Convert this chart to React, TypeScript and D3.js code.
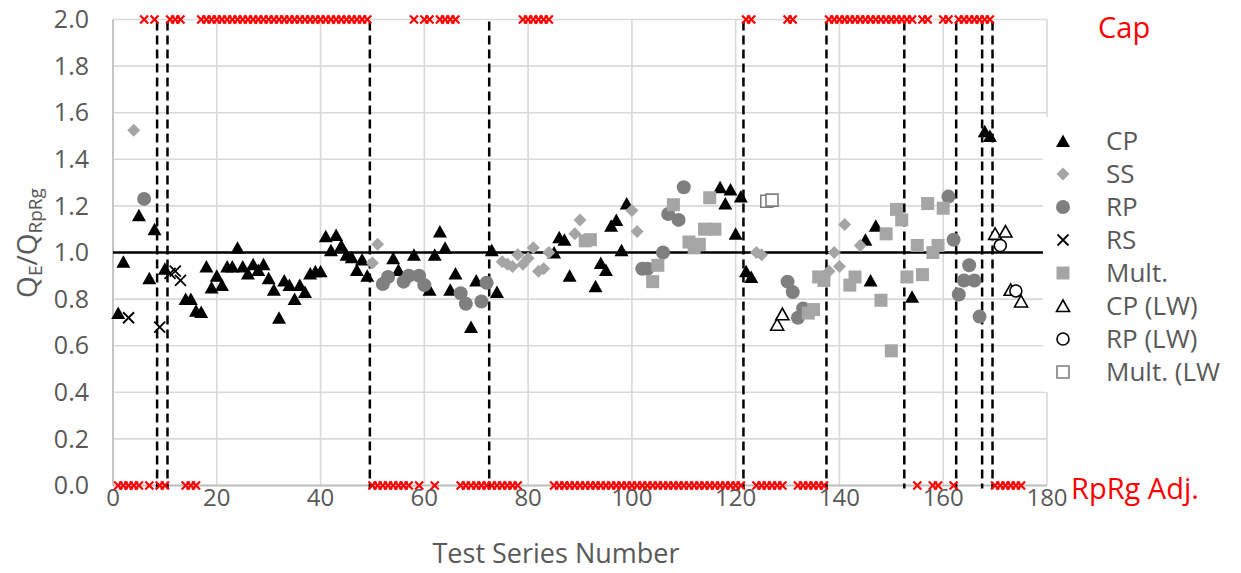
import { useEffect, useRef } from 'react'
import * as d3 from 'd3'

// test series number / QE/QRpRg ratio, per type
const cpX = [1, 2, 5, 7, 8, 10, 14, 15, 16, 17, 18, 19, 20, 21, 22, 23, 24, 25, 26, 27, 28, 29, 30, 31, 32, 33, 34, 35, 36, 37, 38, 39, 40, 41, 42, 43, 44, 45, 46, 47, 48, 49, 54, 55, 58, 61, 62, 63, 64, 65, 66, 69, 70, 73, 74, 85, 86, 87, 88, 93, 94, 95, 96, 97, 98, 99, 117, 118, 119, 120, 121, 122, 123, 145, 146, 147, 154, 168, 169]
const cpY = [0.74, 0.96, 1.16, 0.89, 1.1, 0.93, 0.8, 0.8, 0.75, 0.745, 0.94, 0.85, 0.9, 0.86, 0.94, 0.94, 1.02, 0.94, 0.91, 0.95, 0.925, 0.95, 0.89, 0.84, 0.72, 0.88, 0.86, 0.8, 0.86, 0.83, 0.91, 0.92, 0.92, 1.07, 1.01, 1.075, 1.03, 0.99, 0.98, 0.925, 0.97, 0.9, 0.975, 0.925, 0.99, 0.84, 0.99, 1.09, 1.02, 0.84, 0.91, 0.68, 0.88, 1.01, 0.83, 1.0, 1.065, 1.055, 0.9, 0.855, 0.955, 0.925, 1.115, 1.14, 1.01, 1.21, 1.28, 1.21, 1.27, 1.08, 1.24, 0.92, 0.895, 1.055, 0.88, 1.115, 0.81, 1.52, 1.5]

const ssX = [4, 50, 51, 75, 76, 77, 78, 79, 80, 81, 82, 83, 84, 89, 90, 100, 101, 124, 125, 138, 139, 140, 141, 144]
const ssY = [1.525, 0.955, 1.035, 0.96, 0.95, 0.94, 0.99, 0.95, 0.975, 1.02, 0.92, 0.93, 1.0, 1.08, 1.14, 1.18, 1.09, 1.0, 0.99, 0.92, 1.0, 0.94, 1.12, 1.03]

const rpX = [6, 52, 53, 56, 57, 59, 60, 67, 68, 71, 72, 102, 103, 106, 107, 109, 110, 130, 131, 132, 133, 161, 162, 163, 164, 165, 166, 167]
const rpY = [1.23, 0.865, 0.895, 0.875, 0.9, 0.9, 0.86, 0.825, 0.78, 0.79, 0.87, 0.93, 0.93, 1.0, 1.165, 1.14, 1.28, 0.875, 0.83, 0.72, 0.76, 1.24, 1.055, 0.82, 0.88, 0.945, 0.88, 0.725]

const rsX = [3, 9, 11, 12, 13]
const rsY = [0.72, 0.68, 0.91, 0.92, 0.88]

const multX = [91, 92, 104, 105, 108, 111, 112, 113, 114, 115, 116, 134, 135, 136, 137, 142, 143, 148, 149, 150, 151, 152, 153, 155, 156, 157, 158, 159, 160]
const multY = [1.05, 1.055, 0.875, 0.945, 1.205, 1.045, 1.02, 1.035, 1.1, 1.235, 1.1, 0.74, 0.755, 0.895, 0.88, 0.86, 0.895, 0.795, 1.08, 0.578, 1.185, 1.14, 0.895, 1.03, 0.905, 1.21, 1.0, 1.03, 1.19]

const cpLwX = [128, 129, 170, 172, 173, 175]
const cpLwY = [0.69, 0.735, 1.08, 1.09, 0.84, 0.79]
const rpLwX = [171, 174]
const rpLwY = [1.03, 0.835]
const multLwX = [126, 127]
const multLwY = [1.22, 1.225]

// series flagged at cap (2.0) or RpRg adjusted (0.0), as [first, last]
const capRanges = [[6, 6], [8, 8], [11, 13], [17, 49], [58, 58], [60, 61], [63, 66], [79, 84], [122, 123], [130, 131], [138, 154], [156, 157], [160, 161], [163, 169]]
const adjRanges = [[1, 5], [7, 7], [9, 10], [14, 16], [50, 57], [59, 59], [62, 62], [67, 78], [85, 121], [124, 129], [132, 137], [155, 155], [158, 159], [162, 162], [170, 175]]

// group boundaries
const dividers = [8.5, 10.5, 49.5, 72.5, 121.5, 137.5, 152.5, 162.5, 167.5, 169.5]

const xTicks = [0, 20, 40, 60, 80, 100, 120, 140, 160, 180]
const yTicks = [0, 0.2, 0.4, 0.6, 0.8, 1.0, 1.2, 1.4, 1.6, 1.8, 2.0]

const legendNames = ['CP', 'SS', 'RP', 'RS', 'Mult.', 'CP (LW)', 'RP (LW)', 'Mult. (LW)']

const FONT = "'Open Sans', sans-serif"
const GREY_TEXT = '#595959'

const tri = 'M0,-6.5L7,6L-7,6Z'
const dia = 'M0,-6.5L6.5,0L0,6.5L-6.5,0Z'
const sq = 'M-6.5,-6.5H6.5V6.5H-6.5Z'
const cross = (s) => `M${-s},${-s}L${s},${s}M${-s},${s}L${s},${-s}`

const zip = (xs, ys) => xs.map((x, i) => ({ x, y: ys[i] }))
const expand = (ranges) => ranges.flatMap(([a, b]) => d3.range(a, b + 1))

const styles = {
  'CP': { d: tri, fill: '#000', stroke: 'none' },
  'SS': { d: dia, fill: '#a5a5a5', stroke: 'none' },
  'RP': { circle: 7, fill: '#7f7f7f', stroke: 'none' },
  'RS': { d: cross(5.5), fill: 'none', stroke: '#000', sw: 1.8 },
  'Mult.': { d: sq, fill: '#a5a5a5', stroke: 'none' },
  'CP (LW)': { d: 'M0,-6L6.5,5.5L-6.5,5.5Z', fill: '#fff', stroke: '#000', sw: 1.6 },
  'RP (LW)': { circle: 6, fill: '#fff', stroke: '#000', sw: 1.6 },
  'Mult. (LW)': { d: 'M-6,-6H6V6H-6Z', fill: '#fff', stroke: '#7f7f7f', sw: 1.6 },
}

function drawMark(sel, st) {
  if (st.circle) {
    sel.append('circle').attr('r', st.circle)
      .attr('fill', st.fill).attr('stroke', st.stroke).attr('stroke-width', st.sw || 0)
  } else {
    sel.append('path').attr('d', st.d)
      .attr('fill', st.fill).attr('stroke', st.stroke).attr('stroke-width', st.sw || 0)
  }
}

export default function App() {
  const ref = useRef(null)

  useEffect(() => {
    const svg = d3.select(ref.current)
    svg.selectAll('*').remove()

    const x = d3.scaleLinear().domain([0, 180]).range([113, 1047])
    const y = d3.scaleLinear().domain([0, 2]).range([485.5, 19.5])

    // grid
    svg.append('g').selectAll('line').data(yTicks).join('line')
      .attr('x1', x(0)).attr('x2', x(180))
      .attr('y1', (d) => y(d)).attr('y2', (d) => y(d))
      .attr('stroke', '#d9d9d9').attr('stroke-width', 1.6)
    svg.append('g').selectAll('line').data(xTicks.slice(1)).join('line')
      .attr('x1', (d) => x(d)).attr('x2', (d) => x(d))
      .attr('y1', y(0)).attr('y2', y(2))
      .attr('stroke', '#d9d9d9').attr('stroke-width', 1.6)
    svg.append('line').attr('x1', x(0)).attr('x2', x(0)).attr('y1', y(0)).attr('y2', y(2))
      .attr('stroke', '#bfbfbf').attr('stroke-width', 1.8)
    svg.append('line').attr('x1', x(0)).attr('x2', x(180)).attr('y1', y(0)).attr('y2', y(0))
      .attr('stroke', '#bfbfbf').attr('stroke-width', 1.8)

    // tick labels
    svg.append('g').selectAll('text').data(yTicks).join('text')
      .attr('x', 89).attr('y', (d) => y(d)).attr('dy', '0.35em')
      .attr('text-anchor', 'end').attr('font-family', FONT).attr('font-size', 25)
      .attr('fill', GREY_TEXT).text((d) => d3.format('.1f')(d))
    svg.append('g').selectAll('text').data(xTicks).join('text')
      .attr('x', (d) => x(d)).attr('y', 498).attr('dy', '0.35em')
      .attr('text-anchor', 'middle').attr('font-family', FONT).attr('font-size', 24)
      .attr('fill', GREY_TEXT).text((d) => d)

    // dashed dividers + reference line
    svg.append('g').selectAll('line').data(dividers).join('line')
      .attr('x1', (d) => x(d)).attr('x2', (d) => x(d))
      .attr('y1', y(2) + 2).attr('y2', y(0) + 3)
      .attr('stroke', '#000').attr('stroke-width', 2.5).attr('stroke-dasharray', '9,5')
    svg.append('line').attr('x1', x(0)).attr('x2', x(180)).attr('y1', y(1)).attr('y2', y(1))
      .attr('stroke', '#000').attr('stroke-width', 2.4)

    // cap / adjusted flags
    const flags = [
      ...expand(capRanges).map((s) => ({ x: s, y: 2 })),
      ...expand(adjRanges).map((s) => ({ x: s, y: 0 })),
    ]
    svg.append('g').selectAll('path').data(flags).join('path')
      .attr('transform', (d) => `translate(${x(d.x)},${y(d.y)})`)
      .attr('d', cross(4)).attr('stroke', '#ff0000').attr('stroke-width', 2.2).attr('fill', 'none')

    // data series
    const series = [
      ['CP', zip(cpX, cpY)],
      ['SS', zip(ssX, ssY)],
      ['RP', zip(rpX, rpY)],
      ['RS', zip(rsX, rsY)],
      ['Mult.', zip(multX, multY)],
      ['CP (LW)', zip(cpLwX, cpLwY)],
      ['RP (LW)', zip(rpLwX, rpLwY)],
      ['Mult. (LW)', zip(multLwX, multLwY)],
    ]
    series.forEach(([name, pts]) => {
      const g = svg.append('g')
      pts.forEach((p) => {
        const m = g.append('g').attr('transform', `translate(${x(p.x)},${y(p.y)})`)
        drawMark(m, styles[name])
      })
    })

    // legend (text clipped by its box, as in the source)
    svg.append('clipPath').attr('id', 'legclip')
      .append('rect').attr('x', 1043).attr('y', 117).attr('width', 177).attr('height', 275)
    svg.append('rect').attr('x', 1043).attr('y', 117).attr('width', 200).attr('height', 275).attr('fill', '#fff')
    const leg = svg.append('g').attr('clip-path', 'url(#legclip)')
    legendNames.forEach((name, i) => {
      const ly = 141 + i * 33
      const m = leg.append('g').attr('transform', `translate(1063,${ly})`)
      drawMark(m, styles[name])
      leg.append('text').attr('x', 1106).attr('y', ly).attr('dy', '0.36em')
        .attr('font-family', FONT).attr('font-size', 26).attr('fill', GREY_TEXT).text(name)
    })

    // side labels
    svg.append('text').attr('x', 1098).attr('y', 28).attr('dy', '0.36em')
      .attr('font-family', FONT).attr('font-size', 29).attr('fill', '#ff0000').text('Cap')
    svg.append('text').attr('x', 1071).attr('y', 489).attr('dy', '0.36em')
      .attr('font-family', FONT).attr('font-size', 29).attr('fill', '#ff0000').text('RpRg Adj.')

    // axis titles
    svg.append('text').attr('x', 556).attr('y', 553).attr('dy', '0.36em').attr('text-anchor', 'middle')
      .attr('font-family', FONT).attr('font-size', 27).attr('fill', GREY_TEXT).text('Test Series Number')

    const yt = svg.append('text').attr('transform', 'translate(37,243) rotate(-90)')
      .attr('text-anchor', 'middle').attr('font-family', FONT).attr('font-size', 28).attr('fill', GREY_TEXT)
    yt.append('tspan').text('Q')
    yt.append('tspan').attr('font-size', 19).attr('dy', 5).text('E')
    yt.append('tspan').attr('dy', -5).text('/Q')
    yt.append('tspan').attr('font-size', 19).attr('dy', 5).text('RpRg')
  }, [])

  return <svg ref={ref} width={1241} height={573} style={{ position: 'absolute', left: 0, top: 0, background: '#fff' }} />
}
